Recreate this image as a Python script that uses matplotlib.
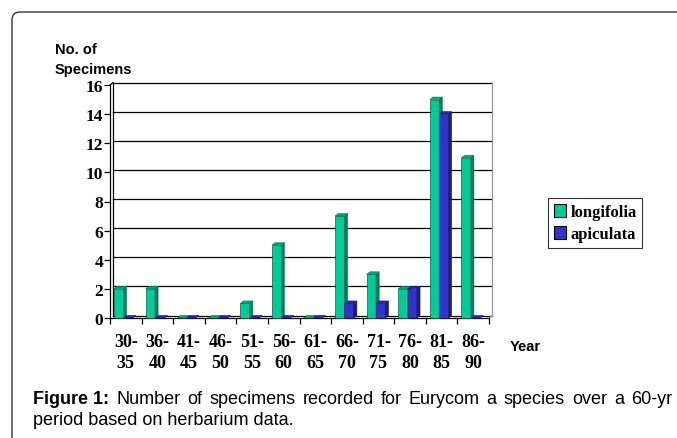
import matplotlib
matplotlib.use('Agg')
import matplotlib.pyplot as plt
from matplotlib.patches import Polygon, Patch, FancyBboxPatch
from matplotlib.transforms import IdentityTransform
import numpy as np

categories = ["30-\n35", "36-\n40", "41-\n45", "46-\n50", "51-\n55", "56-\n60",
              "61-\n65", "66-\n70", "71-\n75", "76-\n80", "81-\n85", "86-\n90"]
longifolia = [2, 2, 0, 0, 1, 5, 0, 7, 3, 2, 15, 11]
apiculata = [0, 0, 0, 0, 0, 0, 0, 1, 1, 2, 14, 0]
series_names = ["longifolia", "apiculata"]
y_ticks = [0, 2, 4, 6, 8, 10, 12, 14, 16]

W, H = 677, 439
fig = plt.figure(figsize=(W / 100, H / 100), dpi=100)
L, R, B, T = 110, 489, 319, 86
ax = fig.add_axes([L / W, 1 - B / H, (R - L) / W, (B - T) / H])
n = len(categories)
ax.set_xlim(0, n)
ax.set_ylim(0, 16)
for s in ['top', 'right']:
    ax.spines[s].set_visible(False)
ax.spines['left'].set_linewidth(0.9)
ax.spines['bottom'].set_linewidth(0.9)

# depth of the pseudo-3D effect, in data units
px_x = (R - L) / n
px_y = (B - T) / 16
dx = 3.2 / px_x
dy = 2.5 / px_y

# back wall gridlines
for v in y_ticks:
    ax.plot([dx, n + dx], [v + dy, v + dy], color='black', lw=0.9, clip_on=False, zorder=1)
ax.plot([dx, dx], [dy, 16 + dy], color='black', lw=0.9, clip_on=False, zorder=1)
ax.plot([n + dx, n + dx], [dy, 16 + dy], color='#999999', lw=0.9, clip_on=False, zorder=1)
ax.plot([0, dx], [16, 16 + dy], color='black', lw=0.9, clip_on=False, zorder=1)
ax.plot([n, n + dx], [0, dy], color='#999999', lw=0.9, clip_on=False, zorder=1)

colors = {
    "longifolia": ("#00CC99", "#007a5c", "#00a67c"),
    "apiculata": ("#3333CC", "#1c1c80", "#2626a6"),
}
bw = 9.3 / px_x
off0 = 4.0 / px_x
x = np.arange(n)
for k, (name, vals) in enumerate(zip(series_names, [longifolia, apiculata])):
    front, side, top = colors[name]
    lefts = x + off0 + k * bw
    z = 3 + k * 2
    ax.bar(lefts, vals, width=bw, align='edge', color=front, edgecolor='#003322' if k == 0 else '#101050',
           linewidth=0.4, zorder=z, clip_on=False)
    for x0, h in zip(lefts, vals):
        sidep = Polygon([(x0 + bw, 0), (x0 + bw + dx, dy), (x0 + bw + dx, h + dy), (x0 + bw, h)],
                        closed=True, facecolor=side, edgecolor=side, lw=0.4, zorder=z + 0.5, clip_on=False)
        topp = Polygon([(x0, h), (x0 + dx, h + dy), (x0 + bw + dx, h + dy), (x0 + bw, h)],
                       closed=True, facecolor=top, edgecolor=side, lw=0.4, zorder=z + 0.5, clip_on=False)
        ax.add_patch(sidep)
        ax.add_patch(topp)

serif = {'family': 'Liberation Serif', 'weight': 'bold', 'size': 12.5}
serif_x = {'family': 'Liberation Serif', 'weight': 'bold', 'size': 13}
ax.set_yticks(y_ticks)
ax.set_yticklabels([str(v) for v in y_ticks], fontdict=serif)
ax.tick_params(axis='y', direction='out', length=4, width=0.9, pad=1)
ax.set_xticks(np.arange(n + 1))
ax.set_xticklabels([''] * (n + 1))
ax.tick_params(axis='x', which='major', direction='out', length=4, width=0.9)
ax.set_xticks(x + 0.5, minor=True)
ax.set_xticklabels(categories, minor=True, fontdict=serif_x)
ax.tick_params(axis='x', which='minor', length=0, pad=11)
for lab in ax.get_xticklabels(minor=True):
    lab.set_linespacing(1.3)

sans_b = {'family': 'Liberation Sans', 'weight': 'bold', 'size': 10.5}
fig.text(55 / W, 1 - 50 / H, "No. of", ha='left', va='center', fontdict=sans_b)
fig.text(55 / W, 1 - 70 / H, "Specimens", ha='left', va='center', fontdict=sans_b)
fig.text(510 / W, 1 - 347 / H, "Year", ha='left', va='center', fontdict=sans_b)

handles = [Patch(facecolor=colors[nm][0], edgecolor='black', linewidth=0.8) for nm in series_names]
leg = fig.legend(handles, series_names, loc='center', bbox_to_anchor=(595 / W, 1 - 224 / H),
                 prop={'family': 'Liberation Serif', 'weight': 'bold', 'size': 12},
                 handlelength=0.75, handleheight=0.8, handletextpad=0.25, borderpad=0.35,
                 labelspacing=0.35, fancybox=False, frameon=True, borderaxespad=0)
leg.get_frame().set_edgecolor('black')
leg.get_frame().set_linewidth(0.8)

# caption (first line justified between x=33 and x=672)
cap_size = 13
renderer = fig.canvas.get_renderer()
words = ["Figure 1:"] + "Number of specimens recorded for Eurycom a species over a 60-yr".split()
arts = []
for i, w in enumerate(words):
    t = fig.text(0, 1 - 400 / H, w, ha='left', va='center', family='Liberation Sans',
                 weight='bold' if i == 0 else 'normal', size=cap_size)
    arts.append(t)
widths = [a.get_window_extent(renderer=renderer).width for a in arts]
x_start, x_end = 33, 672
gap = (x_end - x_start - sum(widths)) / (len(words) - 1)
xc = x_start
for a, wdt in zip(arts, widths):
    a.set_x(xc / W)
    xc += wdt + gap
fig.text(33 / W, 1 - 421 / H, "period based on herbarium data.", ha='left', va='center',
         family='Liberation Sans', size=cap_size)

border = FancyBboxPatch((12, -40), 740, H - 13 + 40, boxstyle='round,pad=0,rounding_size=8',
                        transform=IdentityTransform(), fill=False, edgecolor='#333333', lw=1.0)
fig.add_artist(border)

fig.savefig('out.png', dpi=100)
